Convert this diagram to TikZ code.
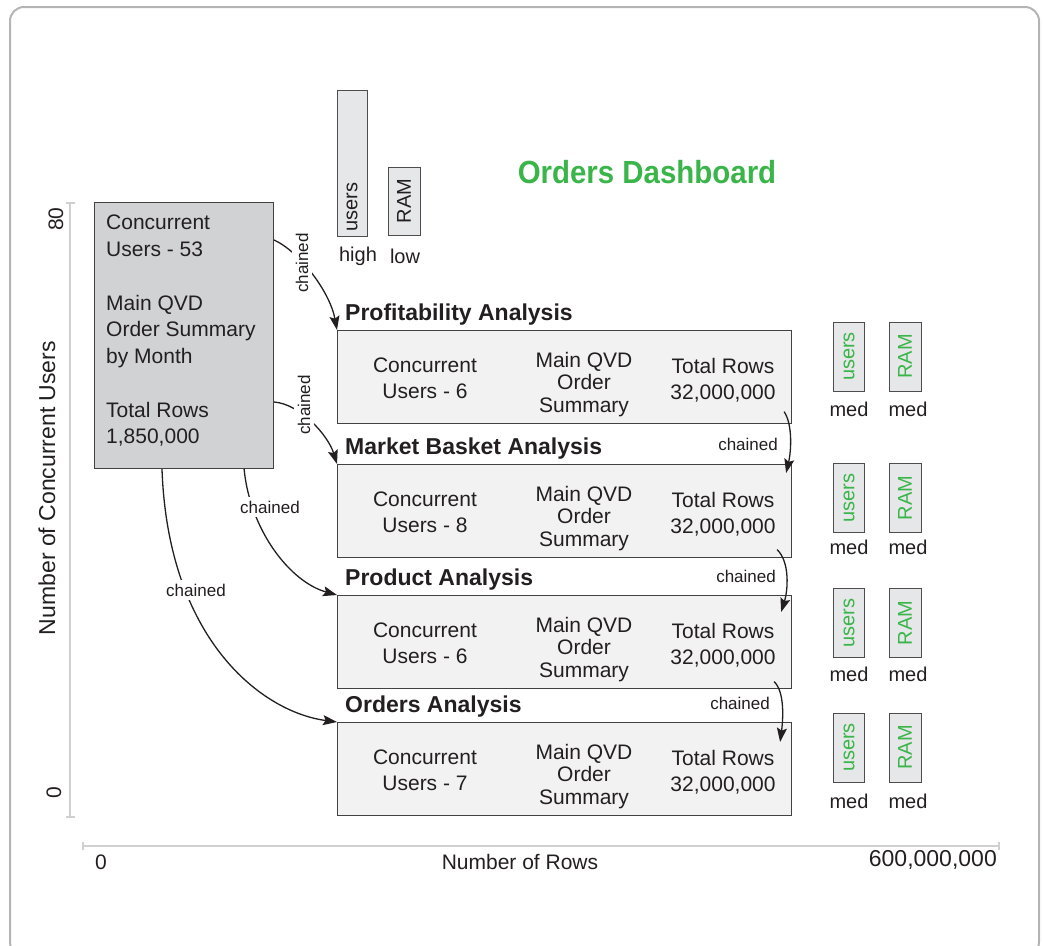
\documentclass[tikz,border=0pt]{standalone}
\usepackage{fontspec}
\setmainfont{Liberation Sans}
\usepackage{graphicx}
\usetikzlibrary{arrows.meta}
\definecolor{dgreen}{HTML}{3AB54A}
\definecolor{boxgray}{HTML}{D1D2D4}
\definecolor{lightbox}{HTML}{F2F2F2}
\definecolor{bargray}{HTML}{E6E7E8}
\definecolor{axisgray}{HTML}{D0D0D0}
\definecolor{framegray}{HTML}{B4B4B4}
\definecolor{ink}{HTML}{231F20}
\newcommand\myfs[2]{\fontsize{#1}{#2}\selectfont}
\begin{document}
\begin{tikzpicture}[x=1pt,y=-1pt,
  txt/.style={text=ink, inner sep=0pt, font=\myfs{21}{26}},
  axisline/.style={draw=axisgray, line width=2pt},
  mainbox/.style={draw=ink!85, line width=1.1pt, fill=boxgray, inner sep=0pt, anchor=north west},
  panel/.style={draw=ink!85, line width=1.1pt, fill=lightbox, inner sep=0pt, anchor=north west, minimum width=454pt, minimum height=92.5pt},
  title/.style={anchor=base west, inner sep=0pt, text=ink, font=\bfseries\myfs{23}{25}},
  coltxt/.style={anchor=north, align=center, inner sep=0pt, text=ink},
  vbar/.style={rotate=90, draw=ink!80, line width=1pt, fill=bargray, inner sep=0pt, font=\myfs{20}{22}},
  gbar/.style={vbar, text=dgreen, minimum width=69pt, minimum height=31pt},
  lvl/.style={txt, font=\myfs{20}{22}},
  chain/.style={draw=ink, line width=1.3pt, -{Stealth[length=14pt,width=10pt,inset=2.5pt]}},
  lbl/.style={fill=white, text=ink, inner sep=4pt, font=\myfs{17}{19}}
]
\useasboundingbox (0,0) rectangle (1043,945);
% frame
\draw[framegray, line width=2pt, rounded corners=14pt] (10,7) rectangle (1039,956);

% axes
\draw[axisline] (70,203) -- (70,817);
\draw[axisline] (66,203) -- (75,203);
\draw[axisline] (66,817) -- (75,817);
\draw[axisline] (83,846) -- (999,846);
\draw[axisline] (83,842) -- (83,850);
\draw[axisline] (999,842) -- (999,850);
\node[txt, rotate=90] (y80) at (56,219) {80};
\node[txt, rotate=90] (y0) at (54,793) {0};
\node[txt, rotate=90, font=\myfs{23}{26}] (ylab) at (47,488) {Number of Concurrent Users};
\node[txt] (x0) at (101,862) {0};
\node[txt] (xlab) at (520,862) {Number of Rows};
\node[txt, anchor=east, font=\myfs{23}{26}] (x600) at (997,860) {600,000,000};

% title
\node[text=dgreen, inner sep=0pt, font=\bfseries\myfs{32}{34}] (dash) at (647,172) {\scalebox{0.92}[1]{Orders Dashboard}};

% top bars
\node[vbar, minimum width=146pt, minimum height=30pt] (tu) at (352,163) {};
\node[txt, rotate=90, font=\myfs{20}{22}] (tut) at (352,207) {users};
\node[vbar, text=ink, minimum width=68pt, minimum height=32pt] (tr) at (404,201) {RAM};
\node[lvl] (thigh) at (358,256) {high};
\node[lvl] (tlow) at (405,256) {low};

% main box
\node[mainbox, minimum width=179pt, minimum height=266pt] (main) at (94,202) {};
\node[txt, anchor=north west, align=left, font=\myfs{21}{26.75}] (maintxt) at (106,215)
  {Concurrent\\Users - 53\\[26.75pt]Main QVD\\Order Summary\\by Month\\[26.75pt]Total Rows\\1,850,000};

% panels
\foreach \n/\t/\u/\name in {1/330/6/Profitability Analysis, 2/464/8/Market Basket Analysis, 3/595/6/Product Analysis, 4/722/7/Orders Analysis}{
  \node[panel] (b\n) at (337,\t) {};
  \node[title] (t\n) at (345,\t-10) {\name};
  \node[coltxt, font=\myfs{21}{26}] (cu\n) at (425,\t+28) {Concurrent\\Users - \u};
  \node[coltxt, font=\myfs{21}{22.5}] (qv\n) at (584,\t+22) {Main QVD\\Order\\Summary};
  \node[coltxt, font=\myfs{21}{26}] (tr\n) at (723,\t+28) {Total Rows\\32,000,000};
}

% right bars
\foreach \n/\y/\m in {1/356.5/409, 2/498/547, 3/623/674, 4/747.5/801}{
  \node[gbar] (ru\n) at (849,\y) {users};
  \node[gbar, minimum height=32pt] (rr\n) at (905,\y) {RAM};
  \node[lvl] (mu\n) at (849,\m) {med};
  \node[lvl] (mr\n) at (908,\m) {med};
}

% connectors from main box
\draw[chain] ([yshift=-38pt]main.north east) .. controls (300,252) and (330,292) .. (b1.north west);
\draw[chain] ([yshift=-200pt]main.north east) .. controls (300,404) and (328,435) .. (b2.north west);
\draw[chain] ([xshift=-30pt]main.south east) .. controls (250,530) and (290,582) .. (b3.north west);
\draw[chain] ([xshift=68pt]main.south west) .. controls (168,640) and (262,712) .. (b4.north west);
% chained between panels
\draw[chain] ([xshift=-8pt,yshift=12pt]b1.south east) .. controls (793,425) and (791,452) .. ([xshift=-6pt,yshift=-9pt]b2.north east);
\draw[chain] ([xshift=-15pt,yshift=8pt]b2.south east) .. controls (790,562) and (788,590) .. ([xshift=-11pt,yshift=-17pt]b3.north east);
\draw[chain] ([xshift=-18pt,yshift=7pt]b3.south east) .. controls (785,692) and (783,720) .. ([xshift=-12pt,yshift=-20pt]b4.north east);

% labels
\node[lbl, rotate=90] (c1) at (302,263) {chained};
\node[lbl, rotate=90] (c2) at (304,405) {chained};
\node[lbl] (c3) at (270,507) {chained};
\node[lbl] (c4) at (196,590) {chained};
\node[lbl, anchor=east, inner sep=1pt] (c5) at (779,444) {chained};
\node[lbl, anchor=east, inner sep=1pt] (c6) at (777,576) {chained};
\node[lbl, anchor=east, inner sep=1pt] (c7) at (771,703) {chained};
\end{tikzpicture}
\end{document}
